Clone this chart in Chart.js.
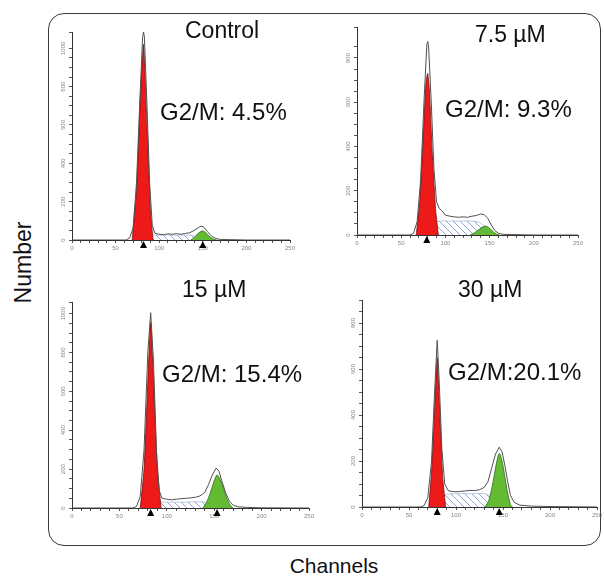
<!DOCTYPE html>
<html>
<head>
<meta charset="utf-8">
<script src="https://cdn.jsdelivr.net/npm/chart.js@4"></script>
<style>
body { margin:0; background:#fff; font-family:"Liberation Sans", Arial, sans-serif; }
#wrap { position:relative; width:604px; height:576px; overflow:hidden; }
.frame { position:absolute; left:48px; top:13px; width:553px; height:533px; box-sizing:border-box; border:1.5px solid #3a3a3a; border-radius:16px; }
canvas { position:absolute; }
.lbl { position:absolute; line-height:1; color:#111; white-space:nowrap; }
.t { font-size:23px; }
.g { font-size:24px; }
</style>
</head>
<body>
<div id="wrap">
  <div class="frame"></div>
  <canvas id="c1"></canvas>
  <canvas id="c2"></canvas>
  <canvas id="c3"></canvas>
  <canvas id="c4"></canvas>
  <div class="lbl t" style="left:185px;top:18.5px">Control</div>
  <div class="lbl g" style="left:160px;top:99.6px">G2/M: 4.5%</div>
  <div class="lbl t" style="left:475px;top:22.5px">7.5 µM</div>
  <div class="lbl g" style="left:445px;top:96.6px">G2/M: 9.3%</div>
  <div class="lbl t" style="left:182px;top:277.5px">15 µM</div>
  <div class="lbl g" style="left:162px;top:361.6px">G2/M: 15.4%</div>
  <div class="lbl t" style="left:458px;top:277.5px">30 µM</div>
  <div class="lbl g" style="left:448px;top:359.6px">G2/M:20.1%</div>
  <div class="lbl" style="left:234px;top:555px;width:200px;text-align:center;font-size:21px">Channels</div>
  <div class="lbl" style="left:-27px;top:250.5px;width:100px;text-align:center;font-size:23px;transform:rotate(-90deg)">Number</div>
</div>
<script>
// channel / count pairs

// Control
const controlRaw = [[0,0],[62,0],[66,10],[70,60],[74,300],[78,750],[81,1060],[82,1085],[83,1060],[86,700],[89,300],[92,80],[95,35],[100,30],[105,28],[110,32],[115,30],[120,33],[125,30],[130,34],[135,38],[140,50],[145,65],[148,72],[151,68],[155,45],[160,20],[165,8],[170,3],[180,2],[200,0],[250,0]];
const controlG1 = [[69,0],[74,250],[78,700],[82,1020],[86,600],[90,150],[93,0]];
const controlS = [[80,0],[84,22],[90,25],[100,25],[110,25],[120,25],[130,25],[140,22],[146,12],[150,0]];
const controlG2 = [[136,0],[140,12],[144,32],[148,45],[150,47],[153,40],[157,20],[162,5],[166,0]];
const controlMarks = [82, 150];

// 7.5 uM
const d75Raw = [[0,0],[60,0],[64,8],[68,60],[72,250],[76,620],[79,860],[80,875],[81,850],[84,600],[87,300],[90,150],[93,120],[96,110],[100,90],[105,85],[110,82],[115,80],[120,82],[125,80],[130,85],[135,88],[140,95],[144,92],[148,75],[152,45],[156,20],[160,8],[165,3],[175,2],[200,0],[250,0]];
const d75G1 = [[67,0],[71,150],[75,450],[78,690],[80,730],[82,650],[85,380],[89,110],[92,0]];
const d75S = [[78,0],[84,40],[90,60],[100,63],[110,63],[120,63],[130,63],[138,58],[144,40],[150,15],[154,0]];
const d75G2 = [[128,0],[133,10],[138,25],[143,38],[146,40],[150,30],[154,15],[158,4],[161,0]];
const d75Marks = [79];

// 15 uM
const d15Raw = [[0,0],[64,0],[68,8],[72,60],[76,300],[80,800],[83,1005],[86,750],[89,300],[92,90],[95,50],[100,45],[105,42],[110,45],[115,48],[120,50],[125,52],[130,55],[135,62],[140,80],[144,120],[148,170],[152,205],[155,190],[158,140],[162,80],[166,35],[170,15],[175,6],[185,3],[200,1],[250,0]];
const d15G1 = [[72,0],[76,200],[80,650],[83,955],[86,650],[90,200],[94,0]];
const d15S = [[80,0],[86,25],[92,30],[100,30],[110,30],[120,30],[130,32],[138,32],[144,25],[150,10],[154,0]];
const d15G2 = [[138,0],[142,30],[146,80],[150,140],[153,170],[156,150],[160,95],[164,40],[168,8],[170,0]];
const d15Marks = [83, 153];

// 30 uM
const d30Raw = [[0,0],[62,0],[66,6],[70,40],[74,200],[77,480],[80,725],[82,560],[85,250],[88,100],[92,70],[96,68],[100,66],[105,68],[110,70],[115,72],[120,72],[125,75],[130,85],[134,110],[138,170],[142,230],[146,260],[149,240],[152,180],[155,110],[158,50],[162,20],[168,8],[180,4],[200,2],[250,0]];
const d30G1 = [[71,0],[74,150],[77,400],[80,650],[83,380],[86,120],[89,0]];
const d30S = [[78,0],[84,40],[90,55],[100,58],[110,58],[120,58],[130,58],[135,50],[140,30],[146,10],[150,0]];
const d30G2 = [[131,0],[135,30],[139,100],[143,190],[146,233],[149,200],[152,130],[155,60],[158,10],[160,0]];
const d30Marks = [80, 146];

const yLabelStep = 200;

function hatch() {
    const c = document.createElement('canvas');
    c.width = 7; c.height = 7;
    const g = c.getContext('2d');
    g.fillStyle = '#fff';
    g.fillRect(0, 0, 7, 7);
    g.strokeStyle = '#93a2dc';
    g.lineWidth = 1;
    g.beginPath();
    g.moveTo(0, 0); g.lineTo(7, 7);
    g.moveTo(-1, 6); g.lineTo(1, 8);
    g.moveTo(6, -1); g.lineTo(8, 1);
    g.stroke();
    return g.createPattern(c, 'repeat');
}

const pts = arr => arr.map(([x, y]) => ({ x, y }));

// rotated y labels + the black triangles under the x axis
const axisExtras = {
    id: 'axisExtras',
    afterDraw(chart, args, opts) {
        const ctx = chart.ctx;
        const xs = chart.scales.x, ys = chart.scales.y;
        ctx.save();
        ctx.fillStyle = '#888';
        ctx.font = '6px "Liberation Sans", Arial';
        ctx.textAlign = 'center';
        ctx.textBaseline = 'middle';
        for (let v = 0; v <= ys.max; v += yLabelStep) {
            ctx.save();
            ctx.translate(chart.chartArea.left - 9, ys.getPixelForValue(v));
            ctx.rotate(-Math.PI / 2);
            ctx.fillText(String(v), 0, 0);
            ctx.restore();
        }
        ctx.fillStyle = '#000';
        const y0 = ys.getPixelForValue(0);
        opts.marks.forEach(m => {
            const px = xs.getPixelForValue(m);
            ctx.beginPath();
            ctx.moveTo(px, y0 + 1);
            ctx.lineTo(px - 3.5, y0 + 8);
            ctx.lineTo(px + 3.5, y0 + 8);
            ctx.closePath();
            ctx.fill();
        });
        ctx.restore();
    }
};

function makePanel(id, area, yMax, raw, g1, s, g2, marks) {
    const canvas = document.getElementById(id);
    const [l, t, r, b] = area;
    canvas.style.left = (l - 20) + 'px';
    canvas.style.top = (t - 6) + 'px';
    canvas.width = r - l + 28;
    canvas.height = b - t + 24;

    return new Chart(canvas, {
        type: 'line',
        plugins: [axisExtras],
        data: {
            datasets: [
                { data: pts(raw), borderColor: '#505050', borderWidth: 1, fill: false, tension: 0 },
                { data: pts(g2), borderColor: '#2f6b16', borderWidth: 0.8, backgroundColor: '#62bb33', fill: 'origin', tension: 0.3 },
                { data: pts(g1), borderColor: '#7a0a0a', borderWidth: 0.8, backgroundColor: '#ee1a1a', fill: 'origin', tension: 0.15 },
                { data: pts(s), borderColor: '#8090c8', borderWidth: 0.5, backgroundColor: hatch(), fill: 'origin', tension: 0.3 }
            ]
        },
        options: {
            responsive: false,
            animation: false,
            devicePixelRatio: 1,
            elements: { point: { radius: 0 } },
            layout: { padding: { left: 6, top: 6, right: 8, bottom: 6 } },
            plugins: {
                legend: { display: false },
                tooltip: { enabled: false },
                axisExtras: { marks: marks }
            },
            scales: {
                x: {
                    type: 'linear',
                    min: 0, max: 250,
                    afterFit: sc => { sc.height = 18; },
                    border: { color: '#333', width: 1 },
                    grid: { drawOnChartArea: false, tickLength: 3, color: '#555' },
                    ticks: {
                        stepSize: 10, autoSkip: false, maxRotation: 0, padding: 2,
                        color: '#888', font: { size: 6 },
                        callback: v => (v % 50 === 0 ? v : '')
                    }
                },
                y: {
                    min: 0, max: yMax,
                    afterFit: sc => { sc.width = 14; },
                    border: { color: '#333', width: 1 },
                    grid: { drawOnChartArea: false, tickLength: 3, color: '#555' },
                    ticks: { stepSize: 50, autoSkip: false, display: false }
                }
            }
        }
    });
}

makePanel('c1', [72, 32, 290, 246], 1085, controlRaw, controlG1, controlS, controlG2, controlMarks);
makePanel('c2', [357, 27, 578, 241], 940, d75Raw, d75G1, d75S, d75G2, d75Marks);
makePanel('c3', [72, 302, 309, 514], 1060, d15Raw, d15G1, d15S, d15G2, d15Marks);
makePanel('c4', [362, 300, 597, 513], 900, d30Raw, d30G1, d30S, d30G2, d30Marks);
</script>
</body>
</html>
